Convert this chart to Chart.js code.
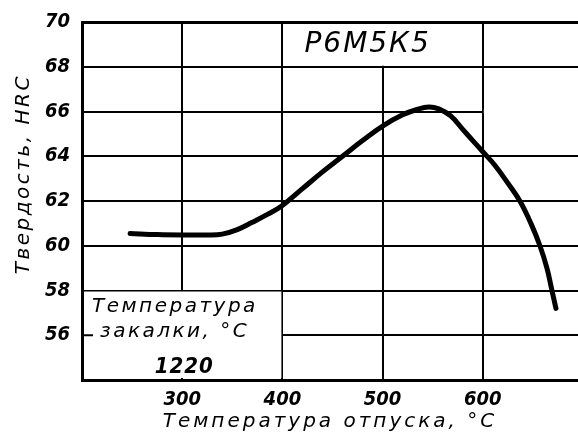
<!DOCTYPE html>
<html>
<head>
<meta charset="utf-8">
<script src="https://cdn.jsdelivr.net/npm/chart.js@4.4.1/dist/chart.umd.min.js"></script>
<style>
  html, body { margin: 0; padding: 0; background: #fff; overflow: hidden; }
  canvas { display: block; }
</style>
</head>
<body>
<canvas id="hardnessChart" width="578" height="445"></canvas>
<script>
// Температура отпуска (°C) и твердость (HRC)
const temperatures = [248, 275, 300, 325, 340, 355, 370, 385, 400, 420, 440, 460, 480, 500,
                      520, 535, 546, 556, 568, 580, 590, 600, 612, 625, 637, 648, 657, 664, 669, 673];
const hardness = [60.55, 60.5, 60.48, 60.48, 60.52, 60.72, 61.05, 61.4, 61.8, 62.55, 63.3, 64.0, 64.7, 65.35,
                  65.85, 66.1, 66.2, 66.12, 65.8, 65.2, 64.7, 64.2, 63.6, 62.8, 62.0, 61.0, 60.0, 59.0, 58.0, 57.2];

const xTicks = [200, 300, 400, 500, 600];
const yTicks = [54, 56, 58, 60, 62, 64, 66, 68, 70];

const steelGrade = 'Р6М5К5';
const quenchLabel = ['Температура', 'закалки, °C'];
const quenchTemp = '1220';
const xTitle = 'Температура отпуска, °C';
const yTitle = 'Твердость, HRC';

const numFont = "'Liberation Sans Narrow', 'DejaVu Sans Condensed', 'DejaVu Sans', sans-serif";
const textFont = "'DejaVu Sans', sans-serif";

// рамки-вставки, подписи и заголовки осей
const sketchPlugin = {
    id: 'sketch',
    beforeDatasetsDraw(chart) {
        const { ctx, chartArea } = chart;
        const x = chart.scales.x, y = chart.scales.y;
        ctx.save();
        ctx.fillStyle = '#fff';

        // вставка "температура закалки" - без сетки внутри
        const l = x.getPixelForValue(200), r = x.getPixelForValue(400);
        const t = y.getPixelForValue(58), b = y.getPixelForValue(54);
        ctx.fillRect(l + 2, t + 1, r - l - 3, b - t - 3);

        // поле с маркой стали
        const l2 = x.getPixelForValue(400), r2 = x.getPixelForValue(600);
        const t2 = y.getPixelForValue(70), b2 = y.getPixelForValue(68);
        ctx.fillRect(l2 + 1, t2 + 2, r2 - l2 - 2, b2 - t2 - 3);

        // обрыв линии 66 справа от 600
        const y66 = y.getPixelForValue(66);
        ctx.fillRect(r2 + 1, y66 - 2, chartArea.right - r2, 4);

        // короткая риска 56
        ctx.strokeStyle = '#000';
        ctx.lineWidth = 2;
        const y56 = y.getPixelForValue(56);
        ctx.beginPath();
        ctx.moveTo(l, y56);
        ctx.lineTo(x.getPixelForValue(211), y56);
        ctx.stroke();

        ctx.fillStyle = '#000';
        ctx.textBaseline = 'alphabetic';

        ctx.letterSpacing = '2px';
        ctx.font = 'italic 28px ' + textFont;
        ctx.textAlign = 'left';
        ctx.fillText(steelGrade, x.getPixelForValue(422), y.getPixelForValue(69.1) + 10);

        ctx.letterSpacing = '2.5px';
        ctx.font = 'italic 20px ' + textFont;
        ctx.fillText(quenchLabel[0], l + 10, t + 21);
        ctx.fillText(quenchLabel[1], l + 18, t + 46);
        ctx.letterSpacing = '1px';
        ctx.font = 'italic bold 22px ' + numFont;
        ctx.textAlign = 'center';
        ctx.fillText(quenchTemp, x.getPixelForValue(302), b - 7);

        // подпись оси X
        ctx.letterSpacing = '3px';
        ctx.font = 'italic 20px ' + textFont;
        ctx.fillText(xTitle, (chartArea.left + chartArea.right) / 2, chartArea.bottom + 47);

        // подпись оси Y
        ctx.translate(29, y.getPixelForValue(63.2));
        ctx.rotate(-Math.PI / 2);
        ctx.letterSpacing = '2.5px';
        ctx.font = 'italic 20px ' + textFont;
        ctx.fillText(yTitle, 0, 0);
        ctx.restore();
    }
};

const ctx = document.getElementById('hardnessChart').getContext('2d');

new Chart(ctx, {
    type: 'line',
    data: {
        datasets: [{
            data: temperatures.map((t, i) => ({ x: t, y: hardness[i] })),
            borderColor: '#000',
            borderWidth: 5,
            borderCapStyle: 'round',
            pointRadius: 0,
            fill: false,
            tension: 0.4
        }]
    },
    options: {
        responsive: false,
        animation: false,
        layout: { padding: { top: 20, left: 0, right: 0, bottom: 0 } },
        plugins: {
            legend: { display: false },
            tooltip: { enabled: false }
        },
        scales: {
            x: {
                type: 'linear',
                min: 200,
                max: 695,
                afterBuildTicks: (scale) => { scale.ticks = xTicks.map(v => ({ value: v })); },
                afterFit: (scale) => { scale.height = 65; },
                grid: { color: '#000', lineWidth: 2, drawTicks: false, tickLength: 0 },
                border: { color: '#000', width: 3 },
                ticks: {
                    color: '#000',
                    padding: 10,
                    font: { family: numFont, size: 20, style: 'italic', weight: 'bold', lineHeight: 1 },
                    callback: (v) => v === 200 ? '' : v
                }
            },
            y: {
                min: 54,
                max: 70,
                afterBuildTicks: (scale) => { scale.ticks = yTicks.map(v => ({ value: v })); },
                afterFit: (scale) => { scale.width = 82; },
                grid: {
                    color: '#000',
                    lineWidth: (c) => c.tick && c.tick.value === 70 ? 3 : 2,
                    drawTicks: false,
                    tickLength: 0
                },
                border: { color: '#000', width: 3 },
                ticks: {
                    color: '#000',
                    padding: 12,
                    font: { family: numFont, size: 20, style: 'italic', weight: 'bold', lineHeight: 1 },
                    callback: (v) => v === 54 ? '' : v
                }
            }
        }
    },
    plugins: [sketchPlugin]
});
</script>
</body>
</html>
